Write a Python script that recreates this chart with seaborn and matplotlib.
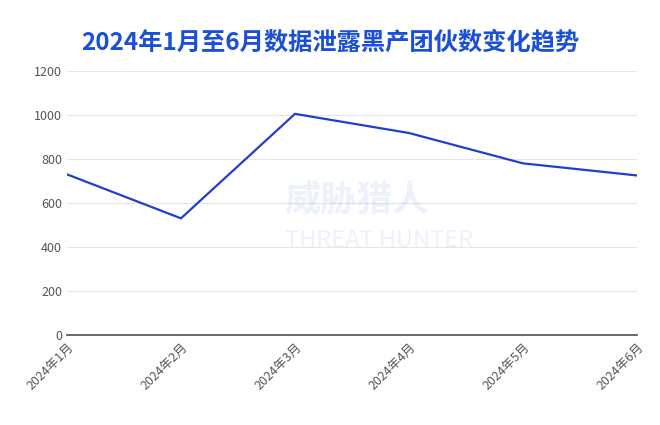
import matplotlib
matplotlib.use("Agg")
import matplotlib.pyplot as plt
import seaborn as sns
import pandas as pd

months = ["2024年1月", "2024年2月", "2024年3月", "2024年4月", "2024年5月", "2024年6月"]
counts = [730, 530, 1005, 918, 780, 725]

sns.set_theme(style="white")
plt.rcParams['font.family'] = ['Noto Sans CJK SC', 'DejaVu Sans']

df = pd.DataFrame({"month": months, "count": counts})
fig = plt.figure(figsize=(6.6, 4.25), dpi=100)
ax = fig.add_axes([0.1015, 0.212, 0.8635, 0.621])
sns.lineplot(data=df, x="month", y="count", ax=ax, color="#1f3fcf", linewidth=1.6, sort=False)
ax.set_xlim(0, 5)
ax.set_ylim(0, 1200)
ax.set_yticks(range(0, 1201, 200))
ax.grid(axis="y", color="#e6e6e6", linewidth=0.8)
for s in ["top", "right", "left"]:
    ax.spines[s].set_visible(False)
ax.spines["bottom"].set_color("#555555")
ax.set_xlabel("")
ax.set_ylabel("")
ax.tick_params(axis="y", colors="#555555", labelsize=9, length=0)
ax.tick_params(axis="x", colors="#555555", labelsize=9, length=0, pad=4)
plt.setp(ax.get_xticklabels(), rotation=45, ha="right", rotation_mode="anchor")
fig.text(0.5, 0.90, "2024年1月至6月数据泄露黑产团伙数变化趋势", ha="center", va="center",
         fontsize=17.5, fontweight="bold", color="#1a4fd6")
fig.text(0.54, 0.53, "威胁猎人", ha="center", va="center", fontsize=26, fontweight="bold",
         color="#1a4fd6", alpha=0.08)
fig.text(0.575, 0.435, "THREAT HUNTER", ha="center", va="center", fontsize=17,
         color="#1a4fd6", alpha=0.08)
fig.savefig("out.png", dpi=100)
